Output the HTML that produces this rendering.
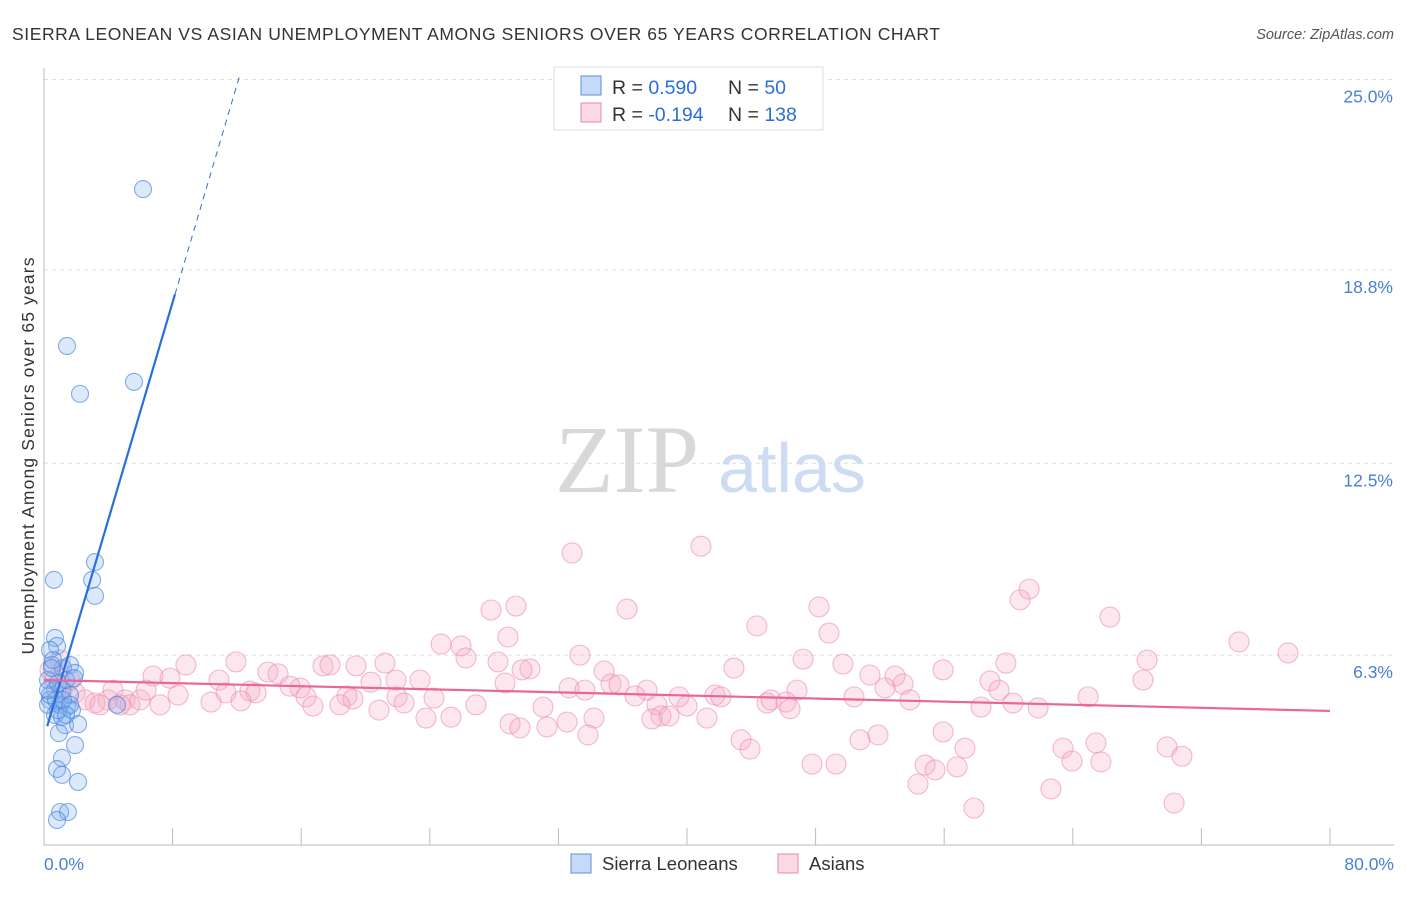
<!DOCTYPE html>
<html><head><meta charset="utf-8"><style>
body{margin:0;background:#fff;font-family:"Liberation Sans",sans-serif}
</style></head><body>
<svg id="c" width="1406" height="892" xmlns="http://www.w3.org/2000/svg"></svg>
<script>
const blueX=[6.16,1.43,2.24,5.6,3.17,2.99,3.17,0.62,0.68,0.81,0.37,0.5,1.18,1.62,1.93,0.25,0.68,1.12,1.62,0.37,1.0,1.43,1.74,0.68,1.12,1.31,2.12,0.93,1.93,1.12,0.81,1.12,2.12,1.0,1.49,0.81,4.54,0.37,0.25,0.75,1.37,0.5,0.87,1.18,1.62,0.25,0.56,1.87,1.37,0.87];
const blueY=[21.43,16.32,14.76,15.15,9.28,8.70,8.18,8.70,6.81,6.55,6.42,5.93,5.83,5.93,5.67,5.44,5.11,5.11,4.95,4.79,4.63,4.56,4.46,4.30,4.23,3.97,4.0,3.71,3.32,2.90,2.54,2.35,2.12,1.14,1.14,0.88,4.63,4.95,4.63,4.79,5.44,5.83,4.46,4.79,4.63,5.11,6.09,5.5,4.3,5.34];
const pinkX=[32.85,40.87,61.28,60.72,27.81,29.36,36.27,48.21,66.31,44.35,48.83,24.70,25.94,28.86,74.34,77.39,33.34,26.25,28.24,47.22,68.62,55.93,59.84,49.70,42.92,34.84,30.23,29.74,21.21,17.36,17.79,11.94,8.83,6.78,7.84,13.93,14.56,68.37,58.85,51.38,52.94,53.44,52.32,59.41,64.95,46.84,41.74,42.11,37.51,35.27,35.77,32.66,33.65,36.77,39.50,40.00,38.13,38.38,38.88,41.24,37.82,44.98,45.23,46.16,46.41,50.39,53.87,58.29,60.28,61.84,19.41,20.34,21.90,23.39,21.96,22.40,24.26,26.87,31.04,28.68,15.93,15.30,12.81,13.19,10.89,11.32,10.39,12.25,16.30,16.73,18.85,19.22,18.41,20.84,23.76,25.32,28.99,31.29,32.54,34.21,33.84,29.61,43.36,43.92,50.76,51.88,55.93,57.29,54.81,55.43,54.37,56.80,57.85,63.39,63.95,65.44,65.75,69.86,70.79,70.30,62.64,47.78,49.27,1.0,0.37,0.68,1.12,1.93,2.55,3.17,3.98,4.29,5.04,5.35,5.97,6.35,7.22,8.34,4.73,3.48,1.62];
const pinkY=[9.58,9.80,8.40,8.05,7.72,7.85,7.75,7.82,7.49,7.20,6.97,6.61,6.55,6.84,6.68,6.32,6.25,6.16,6.03,6.12,6.09,5.77,5.99,5.96,5.83,5.73,5.80,5.77,5.99,5.90,5.93,6.03,5.93,5.57,5.50,5.70,5.64,5.44,5.41,5.60,5.57,5.31,5.18,5.11,4.89,5.11,4.95,4.89,5.11,5.31,5.28,5.18,5.11,4.92,4.89,4.59,4.63,4.27,4.27,4.20,4.17,4.69,4.79,4.72,4.50,4.89,4.79,4.56,4.69,4.53,5.90,5.37,5.44,5.44,4.89,4.69,4.85,4.63,4.56,5.34,5.18,5.24,5.08,5.02,5.44,5.02,4.72,4.76,4.89,4.59,4.92,4.82,4.63,4.46,4.20,4.23,4.01,3.91,4.07,4.20,3.65,3.88,3.49,3.19,3.49,3.65,3.75,3.22,2.67,2.51,2.05,2.61,1.27,3.22,2.80,3.39,2.77,3.26,2.96,1.43,1.89,2.70,2.70,6.09,5.77,5.44,5.11,5.02,4.79,4.69,4.79,5.11,4.79,4.63,4.79,5.11,4.63,4.95,4.63,4.63,5.44];
const yTicks=[25.0,18.8,12.5,6.3];
const yTickLabels=["25.0%","18.8%","12.5%","6.3%"];
const blueFit=[3.58,1.77]; // intercept, slope
const pinkFit=[5.44,-0.0126];

const X=v=>44+v*1286/80, Y=v=>847-v*30.7;
const s=document.getElementById('c'), NS="http://www.w3.org/2000/svg";
function el(t,a,p){const e=document.createElementNS(NS,t);for(const k in a)e.setAttribute(k,a[k]);(p||s).appendChild(e);return e;}
function tx(x,y,str,a){const e=el('text',Object.assign({x:x,y:y},a));e.textContent=str;return e;}

let t=tx(12,40,"SIERRA LEONEAN VS ASIAN UNEMPLOYMENT AMONG SENIORS OVER 65 YEARS CORRELATION CHART",{'font-size':17.5,fill:'#333',textLength:928,lengthAdjust:'spacing'});

t=tx(1394,39,"Source: ZipAtlas.com",{'font-size':14.5,fill:'#555','font-style':'italic','text-anchor':'end'});


yTicks.forEach((v,i)=>{
 const vv=v===6.3?6.25:v;
 const l=el('line',{x1:44,x2:1394,y1:Y(vv),y2:Y(vv),stroke:'#ddd','stroke-dasharray':'4,4'});
 
 const e=tx(1393,Y(vv)+23,yTickLabels[i],{'font-size':17.5,fill:'#4a7fd4','text-anchor':'end'});
 
});
let a=el('line',{x1:44,x2:44,y1:68,y2:845,stroke:'#bbb'});
a=el('line',{x1:44,x2:1394,y1:845,y2:845,stroke:'#bbb'});
for(let i=1;i<=10;i++){const l=el('line',{x1:X(i*8),x2:X(i*8),y1:828,y2:845,stroke:'#bbb'});}
t=tx(44,870,"0.0%",{'font-size':17.5,fill:'#4a7fd4'});
t=tx(1394,870,"80.0%",{'font-size':17.5,fill:'#4a7fd4','text-anchor':'end'});
t=tx(0,0,"Unemployment Among Seniors over 65 years",{'font-size':17.5,fill:'#333','text-anchor':'middle',textLength:397,lengthAdjust:'spacing',transform:'translate(34,456) rotate(-90)'});


t=tx(555,492,"ZIP",{'font-size':96,fill:'#d8d8d8','font-family':'Liberation Serif'});
t=tx(718,492,"atlas",{'font-size':70,fill:'#cddcf2'});

pinkX.forEach((x,i)=>{const c=el('circle',{cx:X(x),cy:Y(pinkY[i]),r:10,fill:'rgba(246,170,196,0.28)',stroke:'rgba(236,140,175,0.6)','stroke-width':1.1});
 });
blueX.forEach((x,i)=>{const c=el('circle',{cx:X(x),cy:Y(blueY[i]),r:8.5,fill:'rgba(130,175,240,0.28)',stroke:'rgba(70,130,220,0.65)','stroke-width':1.1});
 });

let L=el('line',{x1:X(0.2),y1:Y(blueFit[0]+blueFit[1]*0.2),x2:X(8.15),y2:Y(blueFit[0]+blueFit[1]*8.15),stroke:'#2a6fd8','stroke-width':2.2});

L=el('line',{x1:X(8.15),y1:Y(blueFit[0]+blueFit[1]*8.15),x2:X(12.2),y2:Y(blueFit[0]+blueFit[1]*12.2),stroke:'#2a6fd8','stroke-width':1,'stroke-dasharray':'6,5'});

L=el('line',{x1:X(0),y1:Y(pinkFit[0]),x2:X(80),y2:Y(pinkFit[0]+pinkFit[1]*80),stroke:'#e8679a','stroke-width':2.2});


const g=el('g',{});
el('rect',{x:554,y:67,width:269,height:63,fill:'#fff',stroke:'#ddd'},g);
el('rect',{x:581,y:76,width:20,height:19,fill:'rgba(130,175,240,0.45)',stroke:'#5a8fdc'},g);
el('rect',{x:581,y:103,width:20,height:19,fill:'rgba(246,170,196,0.45)',stroke:'#e88aa8'},g);
[[94,"0.590","50"],[121,"-0.194","138"]].forEach(r=>{
 const a=el('text',{x:612,y:r[0],'font-size':19.5,fill:'#333'},g);a.innerHTML='R = <tspan fill="#2a6fd8">'+r[1]+'</tspan>';
 const b=el('text',{x:728,y:r[0],'font-size':19.5,fill:'#333'},g);b.innerHTML='N = <tspan fill="#2a6fd8">'+r[2]+'</tspan>';
});
const g2=el('g',{});
el('rect',{x:571,y:854,width:20,height:19,fill:'rgba(130,175,240,0.45)',stroke:'#5a8fdc'},g2);
tx(602,870,"Sierra Leoneans",{'font-size':18.5,fill:'#333'});
el('rect',{x:778,y:854,width:20,height:19,fill:'rgba(246,170,196,0.45)',stroke:'#e88aa8'},g2);
tx(809,870,"Asians",{'font-size':18.5,fill:'#333'});
</script>
</body></html>
